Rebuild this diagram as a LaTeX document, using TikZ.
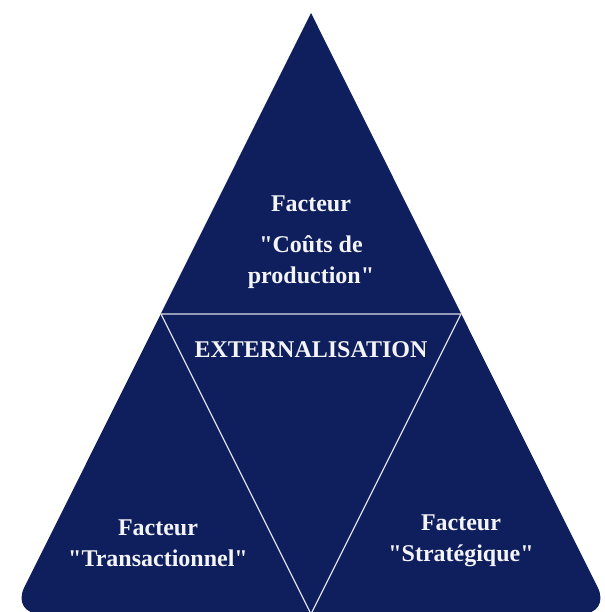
\documentclass[tikz,border=0pt]{standalone}
\usepackage{fontspec}
\setmainfont{Liberation Serif}[Ligatures=TeXOff]
\usetikzlibrary{positioning}
\definecolor{navy}{RGB}{15,30,92}

\begin{document}
\begin{tikzpicture}[x=1pt,y=1pt,
factor/.style={text=white!95!navy, font=\fontsize{24}{31}\selectfont\bfseries, align=center, inner sep=0pt},
split/.style={draw=white!85!navy, line width=1.2pt}
]
\useasboundingbox (0,0) rectangle (604,612);
\clip (0,0) rectangle (604,612);

% outer pyramid, base corners slightly rounded
\coordinate (apex) at (311,599);
\coordinate (baseL) at (11,-2);
\coordinate (baseR) at (611,-2);
\coordinate (midB) at (311,-2);
\fill[navy] (midB) [rounded corners=30pt] -- (baseR) [sharp corners] -- (apex) [rounded corners=30pt] -- (baseL) -- cycle;

% inner triangle on the side midpoints
\coordinate (midL) at (161,298);
\coordinate (midR) at (461,298);
\draw[split] (midL) -- (midR) -- (midB) -- cycle;

\node[factor](ext) at (311,262){EXTERNALISATION};

\node[factor](cost) at (311,349.5){"Coûts de\\production"};
\node[factor](cost_t)[above=24pt of cost]{Facteur};

\node[factor](trans) at (158,69){Facteur\\"Transactionnel"};
\node[factor](strat) at (461,71){Facteur\\"Stratégique"};
\end{tikzpicture}
\end{document}
